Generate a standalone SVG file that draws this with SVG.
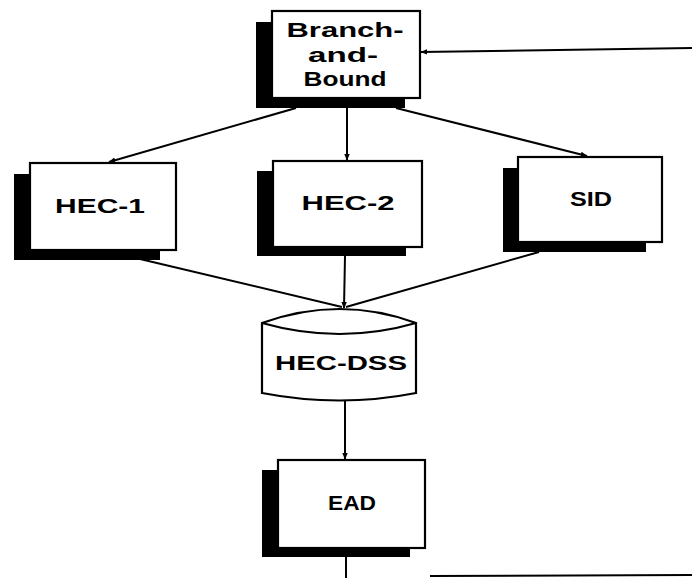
<svg xmlns="http://www.w3.org/2000/svg" width="692" height="578" viewBox="0 0 692 578">
<defs>
<style>
.shadow{fill:#000}
.box{fill:#fff;stroke:#000;stroke-width:2.2}
.lbl{font-family:"Liberation Sans",Arial,sans-serif;font-weight:bold;font-size:21px;fill:#000;text-anchor:middle}
.con{stroke:#000;stroke-width:2;fill:none}
</style>
<marker id="ah" viewBox="0 0 10 10" refX="9" refY="5" markerWidth="7" markerHeight="7" markerUnits="userSpaceOnUse" orient="auto">
<path d="M0,1 L10,5 L0,9 Z" fill="#000"/>
</marker>
</defs>
<rect width="692" height="578" fill="#fff"/>
<g id="connectors">
<line class="con" x1="296" y1="108" x2="109" y2="162" marker-end="url(#ah)"/>
<line class="con" x1="347" y1="108" x2="347" y2="160" marker-end="url(#ah)"/>
<line class="con" x1="396" y1="108" x2="587" y2="156" marker-end="url(#ah)"/>
<line class="con" x1="140" y1="259" x2="342" y2="307"/>
<line class="con" x1="345" y1="256" x2="344" y2="308" marker-end="url(#ah)"/>
<line class="con" x1="539" y1="252" x2="346" y2="307"/>
<line class="con" x1="345" y1="400" x2="345" y2="459" marker-end="url(#ah)"/>
<line class="con" x1="346" y1="557" x2="346" y2="578"/>
<line class="con" x1="430" y1="576" x2="692" y2="575"/>
<line class="con" x1="692" y1="48" x2="421" y2="52" marker-end="url(#ah)"/>
</g>
<g id="branch-and-bound">
<rect class="shadow" x="256" y="22" width="149" height="86"/>
<rect class="box" x="272" y="11" width="148" height="87"/>
<text class="lbl" x="345" y="37" textLength="117" lengthAdjust="spacingAndGlyphs">Branch-</text>
<text class="lbl" x="343" y="62" textLength="70" lengthAdjust="spacingAndGlyphs">and-</text>
<text class="lbl" x="345" y="86" textLength="83" lengthAdjust="spacingAndGlyphs">Bound</text>
</g>
<g id="hec-1">
<rect class="shadow" x="14" y="174" width="146" height="86"/>
<rect class="box" x="30" y="163" width="146" height="87"/>
<text class="lbl" x="100" y="213" textLength="90" lengthAdjust="spacingAndGlyphs">HEC-1</text>
</g>
<g id="hec-2">
<rect class="shadow" x="257" y="171" width="149" height="85"/>
<rect class="box" x="273" y="161" width="149" height="86"/>
<text class="lbl" x="348" y="210" textLength="93" lengthAdjust="spacingAndGlyphs">HEC-2</text>
</g>
<g id="sid">
<rect class="shadow" x="503" y="168" width="143" height="84"/>
<rect class="box" x="518" y="157" width="144" height="85"/>
<text class="lbl" x="591" y="206" textLength="42" lengthAdjust="spacingAndGlyphs">SID</text>
</g>
<g id="hec-dss">
<path class="box" d="M262,323 Q340,295 416,323 L416,393 Q340,408 262,393 Z"/>
<path class="con" d="M262,323 Q340,345 416,323"/>
<text class="lbl" x="341" y="370" textLength="132" lengthAdjust="spacingAndGlyphs">HEC-DSS</text>
</g>
<g id="ead">
<rect class="shadow" x="262" y="470" width="148" height="87"/>
<rect class="box" x="278" y="460" width="147" height="88"/>
<text class="lbl" x="352" y="510" textLength="48" lengthAdjust="spacingAndGlyphs">EAD</text>
</g>
</svg>
